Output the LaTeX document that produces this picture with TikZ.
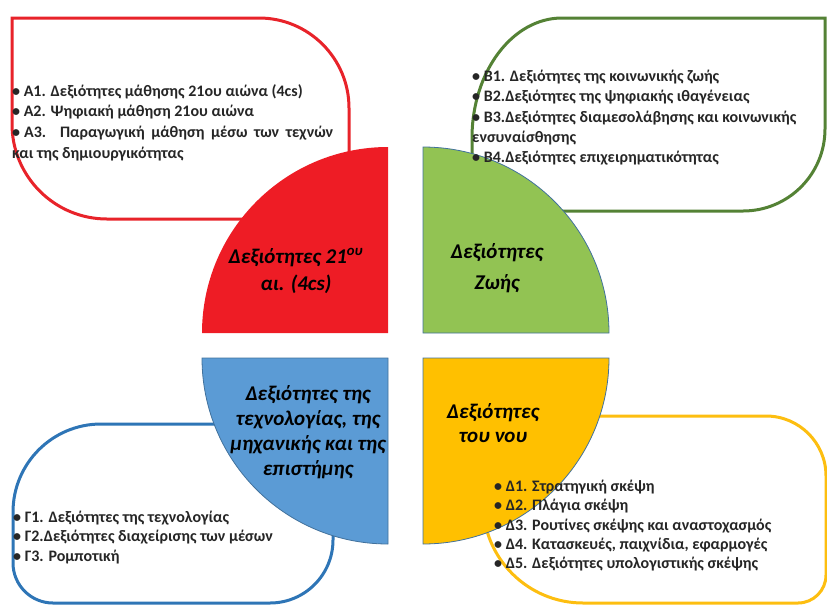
\documentclass[tikz,border=0pt]{standalone}
\usepackage{fontspec}
\setmainfont{Carlito}
\usepackage{xcolor}
\definecolor{redfill}{HTML}{EE1C25}
\definecolor{redline}{HTML}{E8232A}
\definecolor{greenfill}{HTML}{92C353}
\definecolor{greenline}{HTML}{548235}
\definecolor{bluefill}{HTML}{5B9BD5}
\definecolor{blueline}{HTML}{2E75B6}
\definecolor{yellowfill}{HTML}{FFC000}
\definecolor{yellowline}{HTML}{FDBE10}
\definecolor{quarterline}{HTML}{41719C}
\definecolor{textgray}{HTML}{262626}

\begin{document}
\begin{tikzpicture}[x=1pt, y=1pt,
        roundbox/.style={line width=3pt, fill=white},
        quarter/.style={draw=quarterline, line width=0.8pt},
        list/.style={anchor=north west, inner sep=0pt, align=left, text=textgray,
                font=\bfseries\fontsize{16}{20.8}\selectfont},
        heading/.style={align=center, inner sep=0pt, text=black,
                font=\bfseries\itshape\fontsize{21}{27}\selectfont}]
        \useasboundingbox (0,0) rectangle (827,-606);

        \draw[roundbox, draw=redline] (12,-18) -- (259,-18) arc[start angle=90, end angle=0, radius=90]
                -- (349,-219) -- (107,-219) arc[start angle=270, end angle=180, radius=95] -- cycle;
        \draw[roundbox, draw=greenline] (472,-211) -- (472,-138) arc[start angle=180, end angle=90, x radius=90, y radius=120]
                -- (825,-18) -- (825,-129) arc[start angle=0, end angle=-90, radius=82] -- cycle;
        \draw[roundbox, draw=blueline] (333,-424) -- (101,-424) arc[start angle=90, end angle=180, radius=88]
                -- (13,-563) arc[start angle=180, end angle=270, radius=40]
                -- (270,-603) arc[start angle=270, end angle=360, radius=63] -- cycle;
        \draw[roundbox, draw=yellowline] (483,-416) -- (766,-416) arc[start angle=90, end angle=0, radius=60]
                -- (826,-575) arc[start angle=0, end angle=-90, radius=28]
                -- (583,-603) arc[start angle=270, end angle=180, radius=100] -- cycle;

        \fill[redfill] (388,-333) -- (202,-333) arc[start angle=180, end angle=90, radius=186] -- cycle;
        \filldraw[quarter, fill=greenfill] (423,-333) -- (423,-147) arc[start angle=90, end angle=0, radius=186] -- cycle;
        \filldraw[quarter, fill=bluefill] (388,-358) -- (388,-544) arc[start angle=270, end angle=180, radius=186] -- cycle;
        \filldraw[quarter, fill=yellowfill] (423,-358) -- (609,-358) arc[start angle=0, end angle=-90, radius=186] -- cycle;

        \node (lA) [list] at (12,-84) {• Α1. Δεξιότητες μάθησης 21ου αιώνα (4cs)\\
                • Α2. Ψηφιακή μάθηση 21ου αιώνα\\
                \makebox[321pt][s]{•\hspace{0.25em}Α3. Παραγωγική μάθηση μέσω των τεχνών}\\
                και της δημιουργικότητας};
        \node (lB) [list, font=\bfseries\fontsize{16}{20.3}\selectfont] at (472,-70) {• Β1. Δεξιότητες της κοινωνικής ζωής\\
                • Β2.Δεξιότητες της ψηφιακής ιθαγένειας\\
                • Β3.Δεξιότητες διαμεσολάβησης και κοινωνικής\\
                ενσυναίσθησης\\
                • Β4.Δεξιότητες επιχειρηματικότητας};
        \node (lC) [list, font=\bfseries\fontsize{16}{19.3}\selectfont] at (13,-511) {• Γ1. Δεξιότητες της τεχνολογίας\\
                • Γ2.Δεξιότητες διαχείρισης των μέσων\\
                • Γ3. Ρομποτική};
        \node (lD) [list, font=\bfseries\fontsize{16}{19.3}\selectfont] at (494,-480) {• Δ1. Στρατηγική σκέψη\\
                • Δ2. Πλάγια σκέψη\\
                • Δ3. Ρουτίνες σκέψης και αναστοχασμός\\
                • Δ4. Κατασκευές, παιχνίδια, εφαρμογές\\
                • Δ5. Δεξιότητες υπολογιστικής σκέψης};

        \node (tA) [heading] at (296,-271) {Δεξιότητες 21\textsuperscript{ου}\\αι. (4cs)};
        \node (tB) [heading, font=\bfseries\itshape\fontsize{21}{31}\selectfont] at (497,-268) {Δεξιότητες\\Ζωής};
        \node (tC) [heading, font=\bfseries\itshape\fontsize{21}{25}\selectfont] at (308,-432) {Δεξιότητες της\\τεχνολογίας, της\\μηχανικής και της\\επιστήμης};
        \node (tD) [heading, font=\bfseries\itshape\fontsize{21}{24}\selectfont] at (493,-423) {Δεξιότητες\\του νου};
\end{tikzpicture}
\end{document}
